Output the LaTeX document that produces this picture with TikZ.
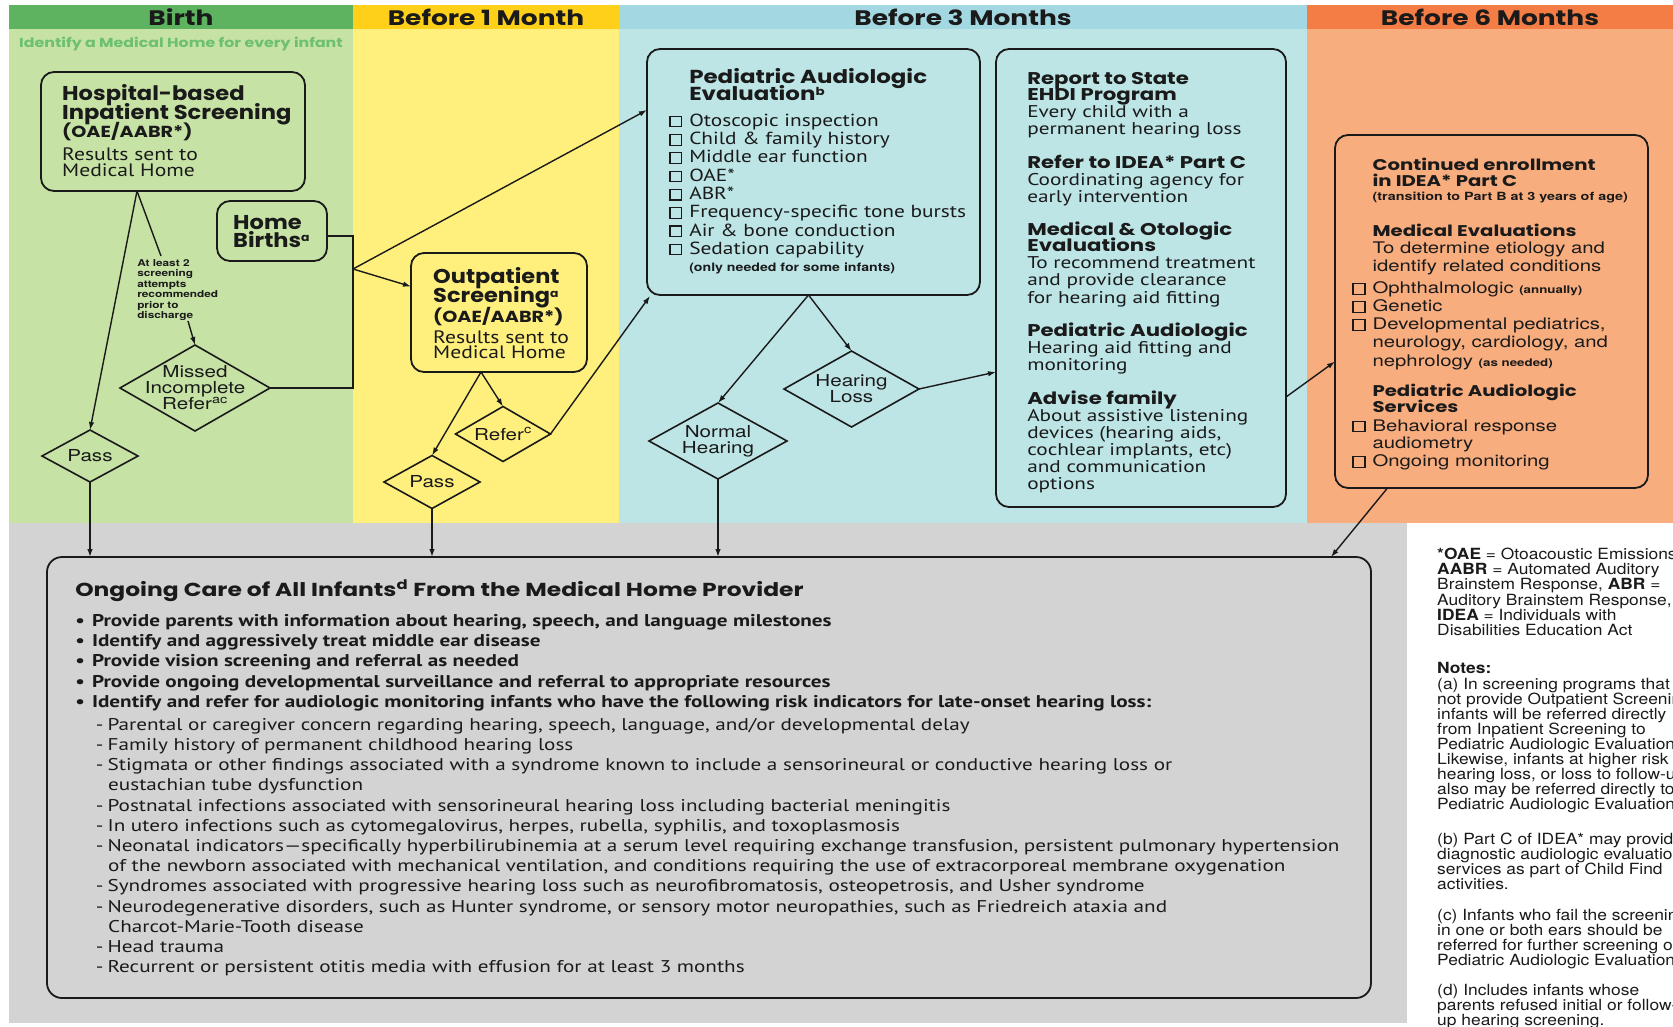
\documentclass[tikz,border=0pt]{standalone}
\usepackage{fontspec}
\usetikzlibrary{shapes.geometric,arrows.meta}
\newfontfamily\popf{Poppins}
\newfontfamily\ptf{PT Sans}
\newfontfamily\hvf{TeX Gyre Heros}
\newcommand\fs[2]{\fontsize{#1}{#2}\selectfont}
\newcommand\nolsl{\lineskiplimit=-100pt\relax}
\newcommand\supr[1]{\raisebox{5.5pt}{\fs{11}{11}#1}}
\newcommand\tbox[2]{\begin{minipage}[t]{#1}\nolsl\raggedright#2\end{minipage}}
\newcommand\chk{{\setlength{\fboxsep}{0pt}\setlength{\fboxrule}{1.1pt}\fbox{\rule{0pt}{9.5pt}\rule{8.5pt}{0pt}}}}
\newcommand\ck{\makebox[16.4pt][l]{\chk}}
\newcommand\cc{\makebox[16pt][l]{\chk}}
\definecolor{gH}{HTML}{5DB35F}
\definecolor{gB}{HTML}{C6E2A5}
\definecolor{yH}{HTML}{FFD01A}
\definecolor{yB}{HTML}{FFF07E}
\definecolor{bH}{HTML}{A3D8E2}
\definecolor{bB}{HTML}{BEE5E6}
\definecolor{oH}{HTML}{F47C45}
\definecolor{oB}{HTML}{F8AD7E}
\definecolor{grB}{HTML}{D3D3D3}
\definecolor{gT}{HTML}{6CC070}
\definecolor{ink}{HTML}{1A1A1A}
\tikzset{
 boxst/.style={draw=ink, line width=1.8pt, rounded corners=13pt, inner sep=0pt, outer sep=0pt},
 dmd/.style={draw=ink, line width=1.6pt, diamond, inner sep=0pt, outer sep=0pt},
 txt/.style={anchor=north west, inner sep=0pt, text=ink},
 dlab/.style={font={\hvf\fs{16.5}{16}\nolsl}, align=center, text=ink, inner sep=0pt, xscale=1.25},
 conn/.style={draw=ink, line width=1.4pt},
 arr/.style={conn, -{Latex[length=8pt,width=5.5pt]}},
 hdr/.style={font={\popf\bfseries\fs{21}{21}}, text=ink, inner sep=0pt, xscale=1.26},
}
\begin{document}
\begin{tikzpicture}[x=1pt,y=-1pt]
% backgrounds
\fill[white] (0,0) rectangle (1673,1026);
\fill[gH] (9,5) rectangle (353,29);
\fill[gB] (9,29) rectangle (353,523);
\fill[yH] (353,5) rectangle (619,29);
\fill[yB] (353,29) rectangle (619,523);
\fill[bH] (619,5) rectangle (1307,29);
\fill[bB] (619,29) rectangle (1307,523);
\fill[oH] (1307,5) rectangle (1673,29);
\fill[oB] (1307,29) rectangle (1673,523);
\fill[grB] (9,523) rectangle (1407,1023);
% headers
\begin{scope}[shift={(181,17)}]\node[hdr] (hBirth) at (0,0) {Birth};\end{scope}
\begin{scope}[shift={(486,17)}]\node[hdr] (hOne) at (0,0) {Before 1 Month};\end{scope}
\begin{scope}[shift={(963,17)}]\node[hdr] (hThree) at (0,0) {Before 3 Months};\end{scope}
\begin{scope}[shift={(1490,17)}]\node[hdr] (hSix) at (0,0) {Before 6 Months};\end{scope}
\begin{scope}[shift={(19,44)}]\node[anchor=west, inner sep=0pt, text=gT, font={\popf\bfseries\fs{13}{13}}, xscale=1.216] (subt) at (0,0) {Identify a Medical Home for every infant};\end{scope}
% boxes
\node[boxst, minimum width=264pt, minimum height=119pt] (hosp) at (173,131.5) {};
\node[boxst, minimum width=110pt, minimum height=60pt] (home) at (272,231) {};
\node[boxst, minimum width=176pt, minimum height=119pt] (outp) at (499,312.5) {};
\node[boxst, minimum width=333pt, minimum height=246pt] (pae) at (813.5,172) {};
\node[boxst, minimum width=290pt, minimum height=458pt] (rep) at (1141,278) {};
\node[boxst, minimum width=313pt, minimum height=353pt] (cont) at (1491.5,311.5) {};
\node[boxst, rounded corners=15pt, minimum width=1324pt, minimum height=441pt] (care) at (709,777.5) {};
% diamonds
\node[dmd, minimum width=96pt, minimum height=52pt, label={[dlab,name=pass1t]center:Pass}] (pass1) at (90,456) {};
\node[dmd, minimum width=96pt, minimum height=53pt, label={[dlab,name=pass2t]center:Pass}] (pass2) at (432,482) {};
\node[dmd, minimum width=95pt, minimum height=55pt, label={[dlab,name=refert]center:Refer\textsuperscript{c}}] (refer) at (503,434) {};
\node[dmd, minimum width=138pt, minimum height=76pt, label={[dlab,name=nht]center:Normal\\Hearing}] (nh) at (718,441) {};
\node[dmd, minimum width=135pt, minimum height=76pt, label={[dlab,name=hlt]center:Hearing\\Loss}] (hl) at (851.5,389) {};
\node[dmd, minimum width=150pt, minimum height=86pt, label={[dlab,name=missedt]center:Missed\\Incomplete\\Refer\textsuperscript{ac}}] (missed) at (195,388) {};
% box texts
\begin{scope}[shift={(62,84)}]\node[txt, xscale=1.13] (hospT) at (0,0) {\tbox{220pt}{%
{\popf\bfseries\fs{20}{19.2}Hospital-based\\Inpatient Screening\par}}};\end{scope}
\begin{scope}[shift={(62,122)}]\node[txt, xscale=1.2] (hospR) at (0,0) {\tbox{200pt}{%
{\popf\bfseries\fs{16}{17}(OAE/AABR*)\par}
\vspace{7pt}
{\ptf\fs{18}{16}Results sent to\\Medical Home\par}}};\end{scope}
\begin{scope}[shift={(233,215)}]\node[txt, xscale=1.125] (homeT) at (0,0) {\tbox{90pt}{%
{\popf\bfseries\fs{20}{18}Home\\Births\supr{a}\par}}};\end{scope}
\begin{scope}[shift={(137,259)}]\node[txt, xscale=1.245] (annT) at (0,0) {\tbox{80pt}{%
{\hvf\bfseries\fs{9.5}{10.5}At least 2\\screening\\attempts\\recommended\\prior to\\discharge\par}}};\end{scope}
\begin{scope}[shift={(433,267.5)}]\node[txt, xscale=1.124] (outpT) at (0,0) {\tbox{150pt}{%
{\popf\bfseries\fs{20}{19.2}Outpatient\\Screening\supr{a}\par}}};\end{scope}
\begin{scope}[shift={(433,307)}]\node[txt, xscale=1.2] (outpR) at (0,0) {\tbox{140pt}{%
{\popf\bfseries\fs{16}{20}(OAE/AABR*)\par}
\vspace{6pt}
{\ptf\fs{18}{15}Results sent to\\Medical Home\par}}};\end{scope}
\begin{scope}[shift={(669,68)}]\node[txt, xscale=1.22] (paeT) at (0,0) {\tbox{260pt}{%
{\leftskip=16.4pt\popf\bfseries\fs{18.8}{17.3}Pediatric Audiologic\\Evaluation\supr{b}\par}
\vspace{7.4pt}
{\ptf\fs{17.5}{18.3}\ck Otoscopic inspection\\\ck Child \& family history\\\ck Middle ear function\\\ck OAE*\\\ck ABR*\\\ck Frequency-specific tone bursts\\\ck Air \& bone conduction\\\ck Sedation capability\par}
{\leftskip=16.4pt\hvf\bfseries\fs{11.6}{17}(only needed for some infants)\par}}};\end{scope}
\begin{scope}[shift={(1027,72)}]\node[txt, xscale=1.25] (repT) at (0,0) {\tbox{215pt}{%
{\popf\bfseries\fs{17}{16}Report to State\\EHDI Program\par}
{\ptf\fs{17}{17.1}Every child with a\\permanent hearing loss\par}
\vspace{17.5pt}
{\popf\bfseries\fs{17}{16}Refer to IDEA* Part C\par}
{\ptf\fs{17}{17.1}Coordinating agency for\\early intervention\par}
\vspace{17.5pt}
{\popf\bfseries\fs{17}{16}Medical \& Otologic\\Evaluations\par}
{\ptf\fs{17}{17.1}To recommend treatment\\and provide clearance\\for hearing aid fitting\par}
\vspace{17.5pt}
{\popf\bfseries\fs{17}{16}Pediatric Audiologic\par}
{\ptf\fs{17}{17.1}Hearing aid fitting and\\monitoring\par}
\vspace{17.5pt}
{\popf\bfseries\fs{17}{16}Advise family\par}
{\ptf\fs{17}{17.1}About assistive listening\\devices (hearing aids,\\cochlear implants, etc)\\and communication\\options\par}}};\end{scope}
\begin{scope}[shift={(1352,157.5)}]\node[txt, xscale=1.27] (contT) at (0,0) {\tbox{240pt}{%
{\leftskip=16pt\popf\bfseries\fs{15.5}{16}Continued enrollment\\in IDEA* Part C\par}
{\leftskip=16pt\hvf\bfseries\fs{11.3}{14}(transition to Part B at 3 years of age)\par}
\vspace{20pt}
{\leftskip=16pt\popf\bfseries\fs{15.5}{16}Medical Evaluations\par}
{\leftskip=16pt\hvf\fs{16}{17.5}To determine etiology and\\identify related conditions\par}
\vspace{4.4pt}
{\hvf\fs{16}{18.1}\cc Ophthalmologic {\bfseries\fs{10.5}{18}(annually)}\\\cc Genetic\\\cc Developmental pediatrics,\\\hspace*{16pt}neurology, cardiology, and\\\hspace*{16pt}nephrology {\bfseries\fs{10.5}{18}(as needed)}\par}
\vspace{14.5pt}
{\leftskip=16pt\popf\bfseries\fs{15.5}{16}Pediatric Audiologic\\Services\par}
\vspace{1pt}
{\hvf\fs{16}{17.7}\cc Behavioral response\\\hspace*{16pt}audiometry\\\cc Ongoing monitoring\par}}};\end{scope}
\begin{scope}[shift={(75,580)}]\node[txt, xscale=1.245] (careT) at (0,0) {\tbox{1040pt}{%
{\popf\bfseries\fs{18.8}{16}Ongoing Care of All Infants\textsuperscript{d} From the Medical Home Provider\par}
\vspace{10pt}
{\ptf\bfseries\fs{17}{20.2}\makebox[13.5pt][l]{•}Provide parents with information about hearing, speech, and language milestones\\
\makebox[13.5pt][l]{•}Identify and aggressively treat middle ear disease\\
\makebox[13.5pt][l]{•}Provide vision screening and referral as needed\\
\makebox[13.5pt][l]{•}Provide ongoing developmental surveillance and referral to appropriate resources\\
\makebox[13.5pt][l]{•}Identify and refer for audiologic monitoring infants who have the following risk indicators for late-onset hearing loss:\par}
\vspace{2.8pt}
{\ptf\fs{17}{20.2}\hspace*{16.5pt}\makebox[9.5pt][l]{-}Parental or caregiver concern regarding hearing, speech, language, and/or developmental delay\\
\hspace*{16.5pt}\makebox[9.5pt][l]{-}Family history of permanent childhood hearing loss\\
\hspace*{16.5pt}\makebox[9.5pt][l]{-}Stigmata or other findings associated with a syndrome known to include a sensorineural or conductive hearing loss or\\
\hspace*{26.5pt}eustachian tube dysfunction\\
\hspace*{16.5pt}\makebox[9.5pt][l]{-}Postnatal infections associated with sensorineural hearing loss including bacterial meningitis\\
\hspace*{16.5pt}\makebox[9.5pt][l]{-}In utero infections such as cytomegalovirus, herpes, rubella, syphilis, and toxoplasmosis\\
\hspace*{16.5pt}\makebox[9.5pt][l]{-}Neonatal indicators—specifically hyperbilirubinemia at a serum level requiring exchange transfusion, persistent pulmonary hypertension\\
\hspace*{26.5pt}of the newborn associated with mechanical ventilation, and conditions requiring the use of extracorporeal membrane oxygenation\\
\hspace*{16.5pt}\makebox[9.5pt][l]{-}Syndromes associated with progressive hearing loss such as neurofibromatosis, osteopetrosis, and Usher syndrome\\
\hspace*{16.5pt}\makebox[9.5pt][l]{-}Neurodegenerative disorders, such as Hunter syndrome, or sensory motor neuropathies, such as Friedreich ataxia and\\
\hspace*{26.5pt}Charcot-Marie-Tooth disease\\
\hspace*{16.5pt}\makebox[9.5pt][l]{-}Head trauma\\
\hspace*{16.5pt}\makebox[9.5pt][l]{-}Recurrent or persistent otitis media with effusion for at least 3 months\par}}};\end{scope}
% notes (cut by the right edge, as in the reference)
\begin{scope}
\clip (0,0) rectangle (1673,1026);
\begin{scope}[shift={(1437,548)}]\node[txt, xscale=1.13] (notesT) at (0,0) {\tbox{330pt}{%
{\hvf\fs{15.4}{15.1}{\bfseries *OAE} = Otoacoustic Emissions,\\{\bfseries AABR} = Automated Auditory\\Brainstem Response, {\bfseries ABR} =\\Auditory Brainstem Response,\\{\bfseries IDEA} = Individuals with\\Disabilities Education Act\par
\vspace{23.6pt}
{\bfseries Notes:}\\(a) In screening programs that\\not provide Outpatient Screening,\\infants will be referred directly\\from Inpatient Screening to\\Pediatric Audiologic Evaluation.\\Likewise, infants at higher risk\\hearing loss, or loss to follow-up,\\also may be referred directly to\\Pediatric Audiologic Evaluation.\par
\vspace{19.7pt}
(b) Part C of IDEA* may provide\\diagnostic audiologic evaluation\\services as part of Child Find\\activities.\par
\vspace{15pt}
(c) Infants who fail the screening\\in one or both ears should be\\referred for further screening or\\Pediatric Audiologic Evaluation.\par
\vspace{14.6pt}
(d) Includes infants whose\\parents refused initial or follow-\\up hearing screening.\par}}};\end{scope}
\end{scope}
% connectors
\coordinate (hb) at (137,191);
\coordinate (annA) at (161,256);
\coordinate (annB) at (188,321);
\coordinate (jA) at (353,269);
\coordinate (jB) at (353,388);
\draw[arr] (hb) -- (pass1.north);
\draw[conn] (hb) -- (annA);
\draw[arr] (annB) -- (missed.north);
\draw[conn] ([yshift=-5pt]home.east) -| (jB) -- (missed.east);
\draw[arr] (jA) -- ([yshift=62pt]pae.west);
\draw[arr] (jA) -- ([yshift=26pt]outp.west);
\draw[arr] ([xshift=-18pt]outp.south) -- (pass2.north);
\draw[arr] ([xshift=-18pt]outp.south) -- (refer.north);
\draw[arr] (refer.east) -- ([xshift=3pt,yshift=-1pt]pae.south west);
\draw[arr] (pass1.south) -- (pass1.south |- care.north);
\draw[arr] (pass2.south) -- (pass2.south |- care.north);
\draw[arr] ([xshift=-5pt]pae.south) -- (nh.north);
\draw[arr] ([xshift=-5pt]pae.south) -- (hl.north);
\draw[arr] (hl.east) -- ([yshift=-94pt]rep.west);
\draw[arr] (nh.south) -- (nh.south |- care.north);
\draw[arr] ([yshift=-119pt]rep.east) -- ([yshift=-50pt]cont.west);
\draw[arr] ([xshift=-104pt]cont.south) -- ([xshift=-40pt]care.north east);
\pgfresetboundingbox
\useasboundingbox (0,0) rectangle (1673,1026);
\end{tikzpicture}
\end{document}
